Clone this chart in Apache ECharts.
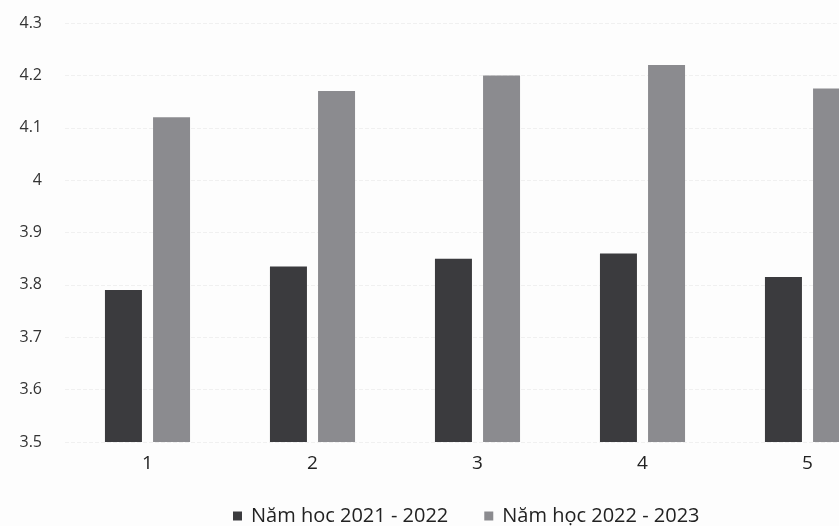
<!DOCTYPE html>
<html><head><meta charset="utf-8">
<script src="https://cdn.jsdelivr.net/npm/echarts@6/dist/echarts.min.js"></script>
<style>html,body{margin:0;padding:0;background:#fdfdfd}#c{width:839px;height:526px}</style>
</head><body><div id="c"></div>
<script>
const categories = ['1','2','3','4','5'];
const series2122 = [3.79, 3.835, 3.85, 3.86, 3.815];
const series2223 = [4.12, 4.17, 4.2, 4.22, 4.175];
const seriesNames = ['Năm hoc 2021 - 2022', 'Năm học 2022 - 2023'];
const yMin = 3.5, yMax = 4.3, yStep = 0.1;

const chart = echarts.init(document.getElementById('c'), null, {renderer:'canvas'});
const font = 'Open Sans';
chart.setOption({
  backgroundColor: '#fdfdfd',
  animation: false,
  grid: {left: 65, top: 23, right: -51, bottom: 84, outerBoundsMode: 'none', containLabel: false},
  legend: {
    data: seriesNames, top: 501, left: 228,
    itemWidth: 9, itemHeight: 9, itemGap: 36, icon: 'rect',
    textStyle: {fontFamily: font, fontSize: 20, color: '#222', padding: [0, 0, 0, 4]}
  },
  xAxis: {
    type: 'category', data: categories,
    axisLine: {show: false}, axisTick: {show: false},
    axisLabel: {fontFamily: font, fontSize: 19, color: '#222', margin: 12}
  },
  yAxis: {
    type: 'value', min: yMin, max: yMax, interval: yStep,
    axisLine: {show: false}, axisTick: {show: false},
    splitLine: {show: true, lineStyle: {color: '#f0f0f0', type: 'dashed'}},
    axisLabel: {fontFamily: font, fontSize: 16, color: '#333', margin: 23,
      formatter: v => String(parseFloat(v.toFixed(1)))}
  },
  series: [
    {name: seriesNames[0], type: 'bar', data: series2122, barWidth: 37, barGap: '30%',
      itemStyle: {color: '#3b3b3e'}},
    {name: seriesNames[1], type: 'bar', data: series2223, barWidth: 37,
      itemStyle: {color: '#8b8b8f'}}
  ]
});
</script></body></html>
